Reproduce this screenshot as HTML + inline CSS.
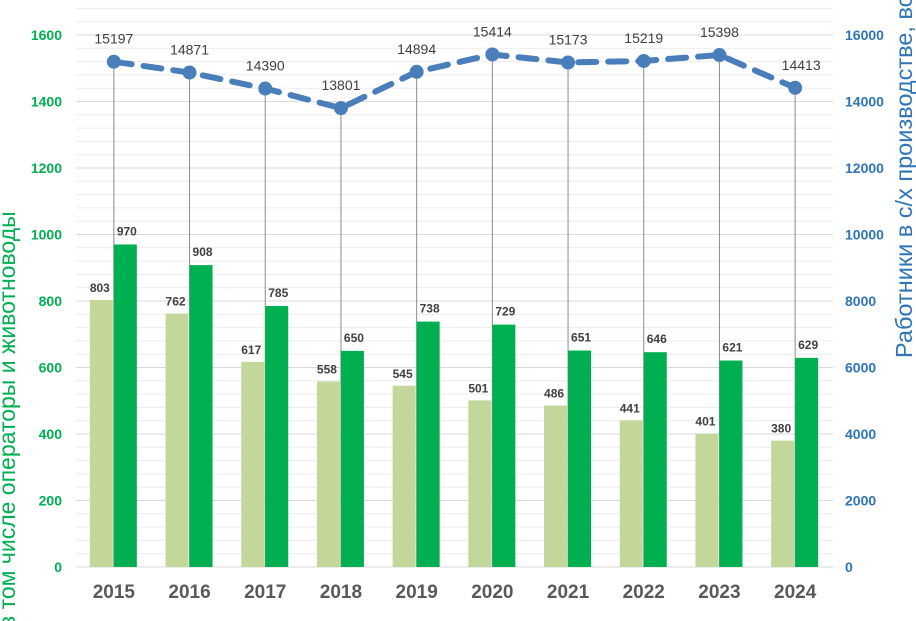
<!DOCTYPE html>
<html><head><meta charset="utf-8"><style>
body{margin:0;background:#fff;overflow:hidden;}
svg{display:block;font-family:"Liberation Sans","Noto Sans CJK SC",sans-serif;}
</style></head><body>
<svg id="chart" width="916" height="621"></svg>
<script>
const years=["2015","2016","2017","2018","2019","2020","2021","2022","2023","2024"];
const lightVals=[803,762,617,558,545,501,486,441,401,380];
const darkVals=[970,908,785,650,738,729,651,646,621,629];
const lineVals=[15197,14871,14390,13801,14894,15414,15173,15219,15398,14413];
const leftTicks=[0,200,400,600,800,1000,1200,1400,1600];
const rightTicks=[0,2000,4000,6000,8000,10000,12000,14000,16000];
const NS="http://www.w3.org/2000/svg";
const svg=document.getElementById('chart');
const x0=76,x1=833,y0=567,yTop=35;
const yL=v=>y0-(v/1600)*(y0-yTop);
const yR=v=>y0-(v/16000)*(y0-yTop);
const bw=(x1-x0)/years.length;
const xc=i=>x0+bw*(i+0.5);
function el(t,a,p){const e=document.createElementNS(NS,t);for(const k in a)e.setAttribute(k,a[k]);(p||svg).appendChild(e);return e;}
for(let v=0;v<=1680;v+=40){
 const g=el('line',{x1:x0,x2:x1,y1:yL(v),y2:yL(v),stroke:v%200===0?'#d9d9d9':'#ececec','stroke-width':1});
 
 
}
leftTicks.forEach(v=>{
 const t=el('text',{x:62,y:yL(v)+5,'text-anchor':'end','font-size':14,'font-weight':'bold',fill:'#00b050'});t.textContent=v;
 
 
});
rightTicks.forEach(v=>{
 const t=el('text',{x:845,y:yR(v)+5,'font-size':14,'font-weight':'bold',fill:'#2e75b6'});t.textContent=v;
 
 
});
years.forEach((y,i)=>{
 const c=xc(i);
 const d=el('line',{x1:c,x2:c,y1:yR(lineVals[i]),y2:y0,stroke:'#8c8c8c','stroke-width':1});
 
 
 const b1=el('rect',{x:c-24,y:yL(lightVals[i]),width:23,height:y0-yL(lightVals[i]),fill:'#c4d79b'});
 
 
 const b2=el('rect',{x:c,y:yL(darkVals[i]),width:23,height:y0-yL(darkVals[i]),fill:'#00b050'});
 
 
 const l1=el('text',{x:c-14,y:yL(lightVals[i])-8,'text-anchor':'middle','font-size':12,'font-weight':'bold',fill:'#404040'});l1.textContent=lightVals[i];
 
 
 const l2=el('text',{x:c+13,y:yL(darkVals[i])-9,'text-anchor':'middle','font-size':12,'font-weight':'bold',fill:'#404040'});l2.textContent=darkVals[i];
 
 
 const yl=el('text',{x:c,y:598,'text-anchor':'middle','font-size':19,'font-weight':'bold',fill:'#595959'});yl.textContent=y;
 
 
});
const pts=lineVals.map((v,i)=>xc(i)+','+yR(v)).join(' ');
const pl=el('polyline',{points:pts,fill:'none',stroke:'#4a7ebb','stroke-width':6,'stroke-dasharray':'18,12','stroke-linecap':'round'});


lineVals.forEach((v,i)=>{
 const m=el('circle',{cx:xc(i),cy:yR(v),r:7,fill:'#4a7ebb'});
 
 
 const t=el('text',{x:xc(i)+(i===lineVals.length-1?6:0),y:yR(v)-18,'text-anchor':'middle','font-size':14,fill:'#404040'});t.textContent=v;
 
 
});
const lt=el('text',{transform:'translate(15,628) rotate(-90)','font-size':23,fill:'#00b050'});lt.textContent='в том числе операторы и животноводы';


const rt=el('text',{transform:'translate(912,358) rotate(-90)','font-size':23.5,fill:'#2e75b6'});rt.textContent='Работники в с/х производстве, всего';


</script>
</body></html>
